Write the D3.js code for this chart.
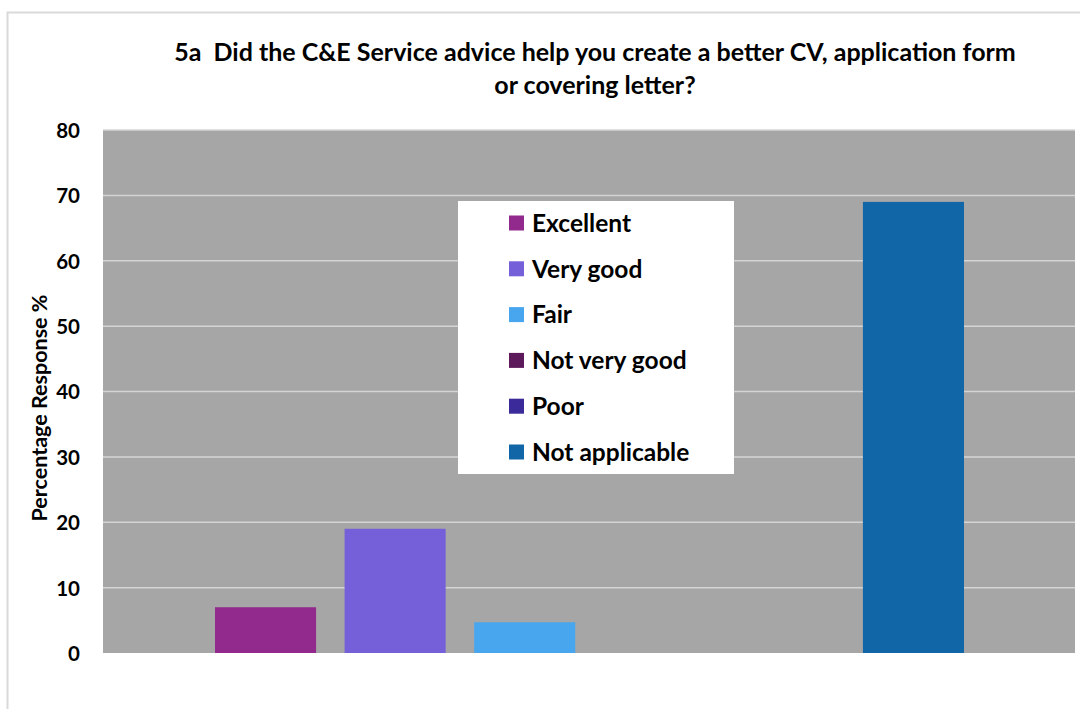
<!DOCTYPE html>
<html>
<head>
<meta charset="utf-8">
<script src="https://cdn.jsdelivr.net/npm/d3@7"></script>
<style>
  html, body { margin: 0; padding: 0; background: #ffffff; }
  svg { display: block; font-family: Lato, "Open Sans", "DejaVu Sans", sans-serif; }
  text { white-space: pre; }
</style>
</head>
<body>
<svg id="chart" width="1080" height="709"></svg>
<script>
// Survey question 5a – response shares (%)
const categories = ["Excellent", "Very good", "Fair", "Not very good", "Poor", "Not applicable"];
const values = [7, 19, 4.7, 0, 0, 69];
const colors = ["#912a8c", "#7660d9", "#48a6ee", "#5c1a5a", "#3a2a9a", "#1066a7"];
const yTicks = [0, 10, 20, 30, 40, 50, 60, 70, 80];
const titleLines = [
  "5a  Did the C&E Service advice help you create a better CV, application form",
  "or covering letter?"
];
const yTitle = "Percentage Response %";

const svg = d3.select("#chart");
const plot = { left: 103, right: 1075, top: 130, bottom: 653 };

// outer chart frame (clipped at right and bottom)
svg.append("path")
  .attr("d", "M7.5,709 V12.5 H1080")
  .attr("fill", "none")
  .attr("stroke", "#d9d9d9")
  .attr("stroke-width", 2);

const y = d3.scaleLinear().domain([0, 80]).range([plot.bottom, plot.top]);
const x = d3.scaleBand()
  .domain(categories)
  .range([plot.left + 112, plot.right - 111])
  .paddingInner(0.22)
  .paddingOuter(0);

// plot background
svg.append("rect")
  .attr("x", plot.left).attr("y", plot.top)
  .attr("width", plot.right - plot.left).attr("height", plot.bottom - plot.top)
  .attr("fill", "#a6a6a6");

// horizontal gridlines
svg.append("g")
  .selectAll("line")
  .data(yTicks.filter(d => d > 0))
  .join("line")
  .attr("x1", plot.left).attr("x2", plot.right)
  .attr("y1", d => y(d)).attr("y2", d => y(d))
  .attr("stroke", "#d4d4d4")
  .attr("stroke-width", 1.5);

// bars
svg.append("g")
  .selectAll("rect")
  .data(categories.map((c, i) => ({ c, v: values[i], col: colors[i] })))
  .join("rect")
  .attr("x", d => x(d.c))
  .attr("width", x.bandwidth())
  .attr("y", d => y(d.v))
  .attr("height", d => y(0) - y(d.v))
  .attr("fill", d => d.col);

// y axis labels
const yAxis = d3.axisLeft(y).tickValues(yTicks).tickSize(0).tickPadding(0);
const gy = svg.append("g")
  .attr("transform", `translate(${plot.left - 23},0)`)
  .call(yAxis);
gy.select(".domain").remove();
gy.selectAll("text")
  .attr("font-family", "Lato, 'Open Sans', sans-serif")
  .attr("font-size", 20.5)
  .attr("font-weight", 700)
  .attr("fill", "#000")
  .attr("dy", "0.36em");

// y axis title
svg.append("text")
  .attr("transform", `translate(47,408) rotate(-90)`)
  .attr("text-anchor", "middle")
  .attr("font-size", 21.5)
  .attr("font-weight", 700)
  .attr("fill", "#000")
  .text(yTitle);

// chart title
svg.append("g")
  .selectAll("text")
  .data(titleLines)
  .join("text")
  .attr("x", 595)
  .attr("y", (d, i) => 61 + i * 33)
  .attr("text-anchor", "middle")
  .attr("font-size", 25)
  .attr("font-weight", 700)
  .attr("fill", "#000")
  .text(d => d);

// legend
const legend = svg.append("g");
legend.append("rect")
  .attr("x", 458).attr("y", 201)
  .attr("width", 276).attr("height", 273)
  .attr("fill", "#ffffff");
const rows = legend.selectAll("g.row")
  .data(categories.map((c, i) => ({ c, col: colors[i] })))
  .join("g")
  .attr("class", "row")
  .attr("transform", (d, i) => `translate(509,${223 + i * 45.8})`);
rows.append("rect")
  .attr("x", 0).attr("y", -7.5)
  .attr("width", 15).attr("height", 15)
  .attr("fill", d => d.col);
rows.append("text")
  .attr("x", 23)
  .attr("dy", "0.36em")
  .attr("font-size", 24.5)
  .attr("font-weight", 700)
  .attr("fill", "#000")
  .text(d => d.c);
</script>
</body>
</html>
